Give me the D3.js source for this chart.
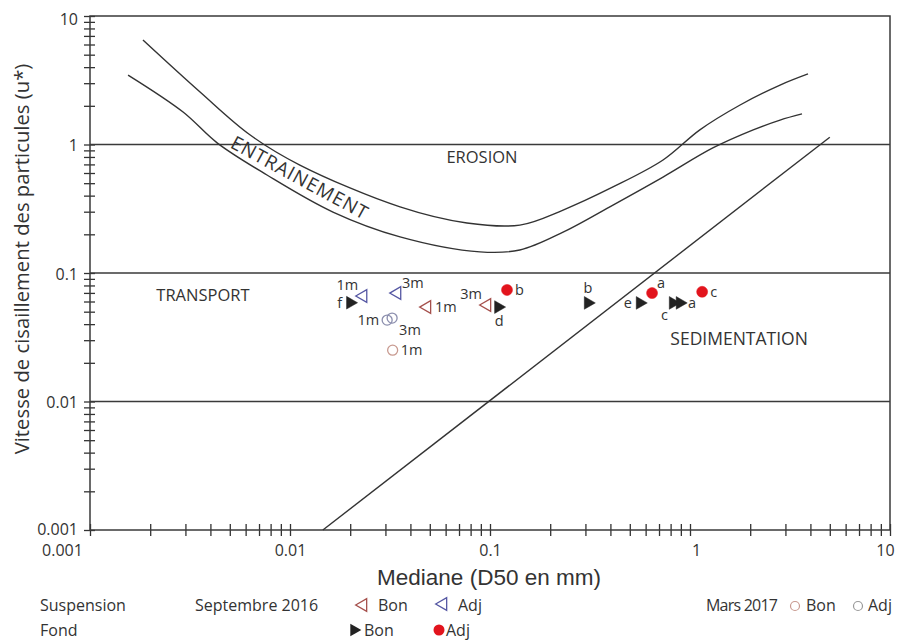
<!DOCTYPE html>
<html>
<head>
<meta charset="utf-8">
<script src="https://cdn.jsdelivr.net/npm/d3@7"></script>
<style>
    body { margin: 0; background: #fff; }
    text { font-family: "Open Sans", sans-serif; fill: #333; }
</style>
</head>
<body>
<svg id="chart" width="908" height="642"></svg>
<script>
// axis ticks
const xTicks = [0.001, 0.01, 0.1, 1, 10];
const xTickLabels = ["0.001", "0.01", "0.1", "1", "10"];
const yTicks = [0.001, 0.01, 0.1, 1, 10];
const yTickLabels = ["0.001", "0.01", "0.1", "1", "10"];

// horizontal limits (u*)
const thresholds = [1, 0.1, 0.01];

// entrainment band [D50 mm, u*]
const upperCurve = [
    [0.00184, 6.5], [0.00355, 2.56], [0.0063, 1.19], [0.0112, 0.692],
    [0.0355, 0.327], [0.0767, 0.245], [0.141, 0.236], [0.232, 0.309],
    [0.412, 0.467], [0.733, 0.757], [1.12, 1.3], [1.78, 2.03],
    [2.82, 2.9], [3.89, 3.54]
];
const lowerCurve = [
    [0.00155, 3.47], [0.00292, 1.79], [0.00432, 1.03], [0.00767, 0.579],
    [0.0164, 0.298], [0.0355, 0.191], [0.0891, 0.146], [0.141, 0.151],
    [0.232, 0.208], [0.412, 0.338], [0.733, 0.558], [1.3, 0.94],
    [2.07, 1.3], [2.82, 1.55], [3.63, 1.73]
];
// sedimentation limit
const depositLine = [[0.0146, 0.001], [5.0, 1.14]];

// zone names
const zoneNames = ["EROSION", "TRANSPORT", "SEDIMENTATION"];
const zoneD = [0.0912, 0.00367, 1.76];
const zoneU = [0.8, 0.0675, 0.0306];

// samples
const suspSeptBon = [
    { d: 0.0484, u: 0.0543, label: "1m", side: "r" },
    { d: 0.0966, u: 0.0564, label: "3m", side: "tl" }
];
const suspSeptAdj = [
    { d: 0.0232, u: 0.0662, label: "1m", side: "tl" },
    { d: 0.0343, u: 0.0698, label: "3m", side: "tr" }
];
const suspMarsBon = [
    { d: 0.0326, u: 0.0251, label: "1m", side: "r" }
];
const suspMarsAdj = [
    { d: 0.0306, u: 0.043, label: "1m", side: "l" },
    { d: 0.0324, u: 0.0446, label: "3m", side: "br" }
];
const fondBon = [
    { d: 0.02, u: 0.0587, label: "f", side: "l" },
    { d: 0.11, u: 0.0543, label: "d", side: "b" },
    { d: 0.309, u: 0.0585, label: "b", side: "t" },
    { d: 0.562, u: 0.0585, label: "e", side: "l" },
    { d: 0.822, u: 0.0585, label: "c", side: "bl" },
    { d: 0.89, u: 0.0585, label: "a", side: "r" }
];
const fondAdj = [
    { d: 0.1216, u: 0.0738, label: "b", side: "r" },
    { d: 0.646, u: 0.0698, label: "a", side: "tr" },
    { d: 1.15, u: 0.0714, label: "c", side: "r" }
];

const colors = {
    septBon: "#a5504c",
    septAdj: "#5557a3",
    marsBon: "#c89a90",
    marsAdj: "#8c8fae",
    fondBon: "#222",
    fondAdj: "#e2141d"
};

const margin = { top: 16, right: 18, bottom: 112, left: 90 };
const width = 908 - margin.left - margin.right;
const height = 642 - margin.top - margin.bottom;

const svg = d3.select("#chart");
const g = svg.append("g").attr("transform", `translate(${margin.left},${margin.top})`);

const x = d3.scaleLog().domain([0.001, 10]).range([0, width]);
const y = d3.scaleLog().domain([0.001, 10]).range([height, 0]);

//minor ticks
const xAxis = g.append("g")
    .attr("transform", `translate(0,${height})`)
    .call(d3.axisBottom(x).tickValues(x.ticks()).tickSize(6).tickFormat(""));
xAxis.selectAll(".tick line").attr("y1", -6).attr("stroke", "#333").attr("stroke-width", 1.3);
xAxis.select(".domain").remove();

const yAxis = g.append("g")
    .call(d3.axisLeft(y).tickValues(y.ticks()).tickSize(6).tickFormat(""));
yAxis.selectAll(".tick line").attr("x1", 5).attr("stroke", "#333").attr("stroke-width", 1.3);
yAxis.select(".domain").remove();

//tick labels
const xLab = g.append("g")
    .attr("transform", `translate(0,${height + 12})`)
    .call(d3.axisBottom(x).tickValues(xTicks).tickSize(0).tickFormat((d, i) => xTickLabels[i]));
xLab.select(".domain").remove();
xLab.selectAll("text")
    .style("font-family", "'Open Sans', sans-serif")
    .style("font-size", "16px")
    .attr("fill", "#333")
    .attr("dx", (d, i) => (i === 0 ? -28 : i === 3 ? 6 : i === 4 ? -5 : 0));

const yLab = g.append("g")
    .attr("transform", "translate(-9,0)")
    .call(d3.axisLeft(y).tickValues(yTicks).tickSize(0).tickFormat((d, i) => yTickLabels[i]));
yLab.select(".domain").remove();
yLab.selectAll("text")
    .style("font-family", "'Open Sans', sans-serif")
    .style("font-size", "16px")
    .attr("fill", "#333")
    .attr("dy", (d, i) => (i === 0 ? "0.3em" : i === 4 ? "0.5em" : "0.4em"));

//frame
g.append("rect")
    .attr("width", width)
    .attr("height", height)
    .attr("fill", "none")
    .attr("stroke", "#3a3a3a")
    .attr("stroke-width", 1.5);

g.selectAll(".limit")
    .data(thresholds)
    .enter()
    .append("line")
    .attr("class", "limit")
    .attr("x1", 0)
    .attr("x2", width)
    .attr("y1", d => y(d))
    .attr("y2", d => y(d))
    .attr("stroke", "#3a3a3a")
    .attr("stroke-width", 1.5);

//curves
const line = d3.line()
    .x(d => x(d[0]))
    .y(d => y(d[1]))
    .curve(d3.curveCatmullRom.alpha(0.5));

[upperCurve, lowerCurve].forEach(c => {
    g.append("path")
        .attr("d", line(c))
        .attr("fill", "none")
        .attr("stroke", "#333")
        .attr("stroke-width", 1.4);
});

g.append("path")
    .attr("d", d3.line().x(d => x(d[0])).y(d => y(d[1]))(depositLine))
    .attr("fill", "none")
    .attr("stroke", "#333")
    .attr("stroke-width", 1.4);

g.append("text")
    .attr("transform", `translate(${x(0.0112)},${y(0.55)}) rotate(28.5)`)
    .attr("text-anchor", "middle")
    .attr("dy", "0.35em")
    .style("font-size", "19px")
    .style("letter-spacing", "1px")
    .text("ENTRAINEMENT");

const zoneSize = ["16.5px", "16.5px", "17.5px"];
g.selectAll(".zone")
    .data(zoneNames)
    .enter()
    .append("text")
    .attr("class", "zone")
    .attr("x", (d, i) => x(zoneD[i]))
    .attr("y", (d, i) => y(zoneU[i]))
    .attr("dy", "0.35em")
    .attr("text-anchor", "middle")
    .style("font-size", (d, i) => zoneSize[i])
    .text(d => d);

//markers
const tri = d3.symbol().type(d3.symbolTriangle).size(70);
const sides = {
    r: { dx: 8, dy: 5, anchor: "start" },
    l: { dx: -8, dy: 5, anchor: "end" },
    t: { dx: 0, dy: -10, anchor: "middle" },
    b: { dx: 1, dy: 19, anchor: "middle" },
    tl: { dx: -5, dy: -6, anchor: "end" },
    tr: { dx: 5, dy: -5, anchor: "start" },
    br: { dx: 7, dy: 17, anchor: "start" },
    bl: { dx: -5, dy: 17, anchor: "end" }
};

function drawTriangles(data, color, filled, angle) {
    g.selectAll(null)
        .data(data)
        .enter()
        .append("path")
        .attr("d", tri)
        .attr("transform", d => `translate(${x(d.d)},${y(d.u)}) rotate(${angle})`)
        .attr("fill", filled ? color : "none")
        .attr("stroke", color)
        .attr("stroke-width", filled ? 0.5 : 1.3);
}

function drawCircles(data, color, filled) {
    g.selectAll(null)
        .data(data)
        .enter()
        .append("circle")
        .attr("cx", d => x(d.d))
        .attr("cy", d => y(d.u))
        .attr("r", filled ? 5.5 : 5)
        .attr("fill", filled ? color : "none")
        .attr("stroke", color)
        .attr("stroke-width", filled ? 0.5 : 1.3);
}

function drawLabels(data) {
    g.selectAll(null)
        .data(data)
        .enter()
        .append("text")
        .attr("x", d => x(d.d) + sides[d.side].dx)
        .attr("y", d => y(d.u) + sides[d.side].dy)
        .attr("text-anchor", d => sides[d.side].anchor)
        .style("font-size", "14.5px")
        .text(d => d.label);
}

drawTriangles(suspSeptBon, colors.septBon, false, -90);
drawTriangles(suspSeptAdj, colors.septAdj, false, -90);
drawCircles(suspMarsBon, colors.marsBon, false);
drawCircles(suspMarsAdj, colors.marsAdj, false);
drawTriangles(fondBon, colors.fondBon, true, 90);
drawCircles(fondAdj, colors.fondAdj, true);

[suspSeptBon, suspSeptAdj, suspMarsBon, suspMarsAdj, fondBon, fondAdj].forEach(drawLabels);

//axis titles
svg.append("text")
    .attr("x", 489)
    .attr("y", 585)
    .attr("text-anchor", "middle")
    .style("font-family", "'Liberation Sans', Arial, sans-serif")
    .style("font-size", "22.5px")
    .text("Mediane (D50 en mm)");

svg.append("text")
    .attr("transform", "translate(29,259) rotate(-90)")
    .attr("text-anchor", "middle")
    .style("font-size", "20.3px")
    .text("Vitesse de cisaillement des particules (u*)");

//legend
const legend = svg.append("g")
    .style("font-family", "'Liberation Sans', Arial, sans-serif")
    .style("font-size", "16px");

const legendText = [
    ["Suspension", 40, 611], ["Septembre 2016", 195, 611], ["Bon", 378, 611], ["Adj", 458, 611],
    ["Mars 2017", 706, 611], ["Bon", 806, 611], ["Adj", 868, 611],
    ["Fond", 40, 636], ["Bon", 364, 636], ["Adj", 446, 636]
];
legend.selectAll("text")
    .data(legendText)
    .enter()
    .append("text")
    .attr("x", d => d[1])
    .attr("y", d => d[2])
    .attr("textLength", d => (d[0] === "Mars 2017" ? 72 : null))
    .text(d => d[0]);

legend.append("path").attr("d", tri).attr("transform", "translate(363,605) rotate(-90)")
    .attr("fill", "none").attr("stroke", colors.septBon).attr("stroke-width", 1.3);
legend.append("path").attr("d", tri).attr("transform", "translate(443,604) rotate(-90)")
    .attr("fill", "none").attr("stroke", colors.septAdj).attr("stroke-width", 1.3);
legend.append("circle").attr("cx", 795).attr("cy", 606).attr("r", 4.5)
    .attr("fill", "none").attr("stroke", colors.marsBon).attr("stroke-width", 1.2);
legend.append("circle").attr("cx", 858).attr("cy", 606).attr("r", 4.5)
    .attr("fill", "none").attr("stroke", "#999").attr("stroke-width", 1.2);
legend.append("path").attr("d", tri).attr("transform", "translate(354,630) rotate(90)")
    .attr("fill", colors.fondBon);
legend.append("circle").attr("cx", 439).attr("cy", 630).attr("r", 5.5)
    .attr("fill", colors.fondAdj);
</script>
</body>
</html>
